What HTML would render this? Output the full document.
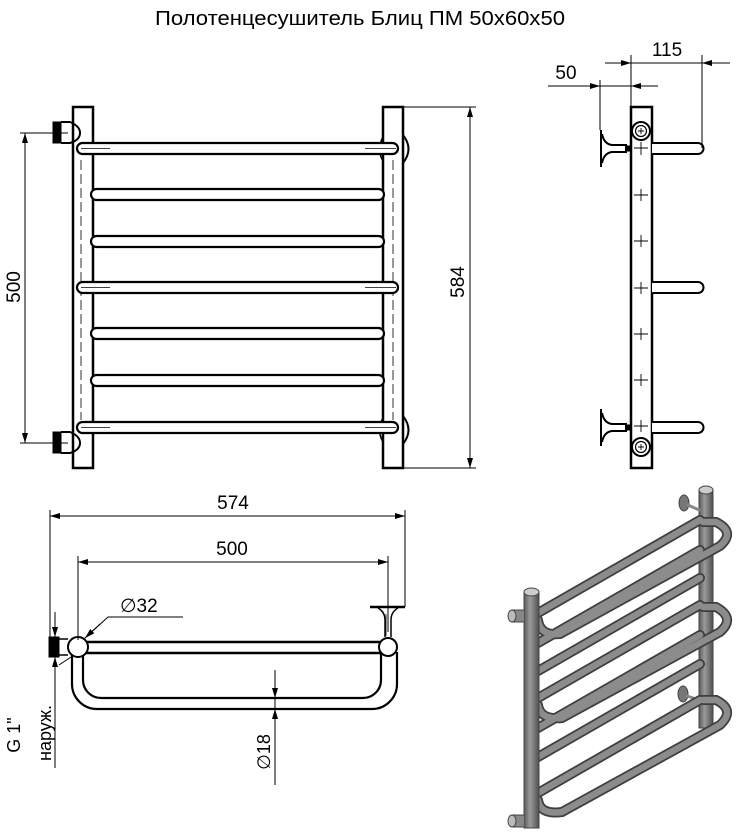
<!DOCTYPE html>
<html><head><meta charset="utf-8"><style>
html,body{margin:0;padding:0;background:#fff;}
svg{display:block;}
text{font-family:"Liberation Sans","DejaVu Sans",sans-serif;fill:#000;}
</style></head><body>
<svg width="736" height="833" viewBox="0 0 736 833" xmlns="http://www.w3.org/2000/svg">
<defs>
<marker id="a" viewBox="0 0 10 6" refX="10" refY="3" markerWidth="10" markerHeight="6" markerUnits="userSpaceOnUse" orient="auto"><path d="M0,0 L10,3 L0,6 z" fill="#000"/></marker>
<linearGradient id="pg" x1="0" x2="1"><stop offset="0" stop-color="#5a5a5a"/><stop offset="0.4" stop-color="#9a9a9a"/><stop offset="1" stop-color="#505050"/></linearGradient>
</defs>

<text x="155" y="25" font-size="20" textLength="410" lengthAdjust="spacingAndGlyphs">Полотенцесушитель Блиц ПМ 50х60х50</text>

<!-- FRONT VIEW -->
<g fill="none" stroke="#000">
<rect x="73" y="107" width="20" height="361" stroke-width="2.5" fill="#fff"/>
<rect x="383" y="107" width="20" height="361" stroke-width="2.5" fill="#fff"/>
<line x1="81" y1="160" x2="81" y2="420" stroke-width="0.8" stroke-dasharray="10,4"/>
<line x1="393" y1="160" x2="393" y2="420" stroke-width="0.8" stroke-dasharray="10,4"/>
<path d="M403 135 Q414 149 403 163" stroke-width="2"/>
<path d="M403 416 Q414 430 403 444" stroke-width="2"/>
<path d="M383 137 Q376 149 383 161" stroke-width="1.5"/>
<path d="M383 418 Q376 430 383 442" stroke-width="1.5"/>
<rect x="53" y="122" width="8" height="21" fill="#000" stroke-width="1"/>
<path d="M61 122 H70 Q80 126 80 133 Q80 140 70 143 H61" stroke-width="2"/>
<rect x="53" y="432" width="8" height="21" fill="#000" stroke-width="1"/>
<path d="M61 432 H70 Q80 436 80 443 Q80 450 70 453 H61" stroke-width="2"/>
<rect x="77" y="143" width="321" height="11" rx="5.5" stroke-width="2.2" fill="#fff"/>
<rect x="77" y="282" width="321" height="11" rx="5.5" stroke-width="2.2" fill="#fff"/>
<rect x="77" y="422" width="321" height="11" rx="5.5" stroke-width="2.2" fill="#fff"/>
<line x1="81" y1="148.5" x2="110" y2="148.5" stroke-width="0.8"/><line x1="365" y1="148.5" x2="396" y2="148.5" stroke-width="0.8"/>
<line x1="81" y1="287.5" x2="110" y2="287.5" stroke-width="0.8"/><line x1="365" y1="287.5" x2="396" y2="287.5" stroke-width="0.8"/>
<line x1="81" y1="427.5" x2="110" y2="427.5" stroke-width="0.8"/><line x1="365" y1="427.5" x2="396" y2="427.5" stroke-width="0.8"/>
<rect x="91" y="189" width="293" height="11" rx="5.5" stroke-width="2.2" fill="#fff"/>
<rect x="91" y="236" width="293" height="11" rx="5.5" stroke-width="2.2" fill="#fff"/>
<rect x="91" y="328" width="293" height="11" rx="5.5" stroke-width="2.2" fill="#fff"/>
<rect x="91" y="375" width="293" height="11" rx="5.5" stroke-width="2.2" fill="#fff"/>
<g stroke-width="1">
<line x1="20" y1="133" x2="68" y2="133"/><line x1="20" y1="443" x2="68" y2="443"/>
<line x1="25" y1="150" x2="25" y2="133" marker-end="url(#a)"/><line x1="25" y1="426" x2="25" y2="443" marker-end="url(#a)"/>
<line x1="25" y1="150" x2="25" y2="426"/>
<line x1="403" y1="107" x2="476" y2="107"/><line x1="403" y1="468" x2="476" y2="468"/>
<line x1="470" y1="125" x2="470" y2="107" marker-end="url(#a)"/><line x1="470" y1="450" x2="470" y2="468" marker-end="url(#a)"/>
<line x1="470" y1="125" x2="470" y2="450"/>
</g>
</g>
<text transform="translate(20,287) rotate(-90)" font-size="19" text-anchor="middle">500</text>
<text transform="translate(464,282) rotate(-90)" font-size="19" text-anchor="middle">584</text>

<!-- SIDE VIEW -->
<g fill="none" stroke="#000">
<rect x="631" y="107" width="21" height="361" stroke-width="2.5" fill="#fff"/>
<circle cx="641" cy="131" r="9" stroke-width="2"/><circle cx="641" cy="131" r="5.5" stroke-width="1.2"/>
<circle cx="641" cy="447" r="9" stroke-width="2"/><circle cx="641" cy="447" r="5.5" stroke-width="1.2"/>
<g stroke-width="0.9">
<path d="M634 148H648M641 142V155"/><path d="M634 195H648M641 189V201"/><path d="M634 241H648M641 235V247"/>
<path d="M634 288H648M641 282V294"/><path d="M634 334H648M641 328V340"/><path d="M634 380H648M641 374V386"/><path d="M634 426H648M641 420V432"/>
<path d="M638 131H644M641 128V134"/><path d="M638 447H644M641 444V450"/>
</g>
<path d="M652 143H698A5.5 5.5 0 0 1 698 154H652" stroke-width="2" fill="#fff"/>
<path d="M652 282H698A5.5 5.5 0 0 1 698 293H652" stroke-width="2" fill="#fff"/>
<path d="M652 422H698A5.5 5.5 0 0 1 698 433H652" stroke-width="2" fill="#fff"/>
<path d="M601 130 L601 167 M602 134 Q604 144 612 145 H626 V152 H612 Q604 153 602 163" stroke-width="2"/>
<rect x="626" y="146" width="5" height="5" fill="#000" stroke-width="1"/>
<path d="M601 409 L601 446 M602 413 Q604 423 612 424 H626 V431 H612 Q604 432 602 442" stroke-width="2"/>
<rect x="626" y="425" width="5" height="5" fill="#000" stroke-width="1"/>
<g stroke-width="1">
<line x1="631" y1="55" x2="631" y2="107"/><line x1="702" y1="55" x2="702" y2="148"/>
<line x1="605" y1="63" x2="631" y2="63" marker-end="url(#a)"/><line x1="730" y1="63" x2="702" y2="63" marker-end="url(#a)"/>
<line x1="631" y1="63" x2="702" y2="63"/>
<line x1="600" y1="80" x2="600" y2="130"/>
<line x1="548" y1="86" x2="600" y2="86" marker-end="url(#a)"/><line x1="658" y1="86" x2="631" y2="86" marker-end="url(#a)"/>
<line x1="600" y1="86" x2="631" y2="86"/>
</g>
</g>
<text x="667" y="56" font-size="19" text-anchor="middle">115</text>
<text x="566" y="79" font-size="19" text-anchor="middle">50</text>

<!-- TOP VIEW -->
<g fill="none" stroke="#000">
<path d="M72 652 V684 A25 25 0 0 0 97 709 H372 A25 25 0 0 0 397 684 V652" stroke-width="2.2"/>
<path d="M83 652 V680 A18 18 0 0 0 101 698 H363 A18 18 0 0 0 381 680 V652" stroke-width="2.2"/>
<line x1="85" y1="642" x2="380" y2="642" stroke-width="2.5"/>
<line x1="85" y1="653" x2="380" y2="653" stroke-width="2.5"/>
<circle cx="78" cy="647" r="10" stroke-width="2" fill="#fff"/>
<circle cx="388" cy="647" r="9" stroke-width="2" fill="#fff"/>
<rect x="49" y="637" width="10" height="20" fill="#000" stroke-width="1"/>
<path d="M59 639 H68 M59 655 H68" stroke-width="1.5"/>
<path d="M370 607 H405" stroke-width="2.5"/>
<path d="M378 608 Q385 612 385 620 V637 M398 608 Q391 612 391 620 V637" stroke-width="1.5"/>
<path d="M386 614 V636" stroke-width="0.8"/>
<g stroke-width="1">
<line x1="50" y1="510" x2="50" y2="637"/><line x1="405" y1="510" x2="405" y2="607"/>
<line x1="70" y1="516" x2="50" y2="516" marker-end="url(#a)"/><line x1="385" y1="516" x2="405" y2="516" marker-end="url(#a)"/>
<line x1="70" y1="516" x2="385" y2="516"/>
<line x1="78" y1="556" x2="78" y2="640"/><line x1="388" y1="556" x2="388" y2="632"/>
<line x1="98" y1="562" x2="78" y2="562" marker-end="url(#a)"/><line x1="368" y1="562" x2="388" y2="562" marker-end="url(#a)"/>
<line x1="98" y1="562" x2="368" y2="562"/>
<path d="M183 617 H108 L85 638" /><line x1="100" y1="624" x2="85" y2="638" marker-end="url(#a)"/>
<line x1="71" y1="657" x2="59" y2="665"/>
<line x1="55" y1="612" x2="55" y2="768"/>
<line x1="55" y1="616" x2="55" y2="637" marker-end="url(#a)"/>
<line x1="55" y1="672" x2="55" y2="657" marker-end="url(#a)"/>
<line x1="275" y1="670" x2="275" y2="785"/>
<line x1="275" y1="680" x2="275" y2="698" marker-end="url(#a)"/>
<line x1="275" y1="727" x2="275" y2="709" marker-end="url(#a)"/>
</g>
</g>
<text x="233" y="509" font-size="19" text-anchor="middle">574</text>
<text x="232" y="555" font-size="19" text-anchor="middle">500</text>
<text x="120" y="612" font-size="19">∅32</text>
<text transform="translate(20,735) rotate(-90)" font-size="18" text-anchor="middle">G 1"</text>
<text transform="translate(51,733) rotate(-90)" font-size="18" text-anchor="middle">наруж.</text>
<text transform="translate(270,752) rotate(-90)" font-size="18" text-anchor="middle">∅18</text>

<!-- 3D VIEW -->
<g fill="none" stroke-linecap="round">
<rect x="699" y="490" width="14" height="238" fill="url(#pg)" stroke="#444" stroke-width="1"/>
<ellipse cx="706" cy="490" rx="7" ry="4" fill="#ccc" stroke="#444"/>
<g stroke="#444" stroke-width="1">
<ellipse cx="684" cy="503" rx="5" ry="8" fill="#777"/><line x1="688" y1="505" x2="699" y2="510" stroke="#888" stroke-width="3"/>
<ellipse cx="683" cy="694" rx="5" ry="8" fill="#777"/><line x1="687" y1="696" x2="699" y2="700" stroke="#888" stroke-width="3"/>
</g>
<g stroke="#3e3e3e" stroke-width="10">
<path d="M538 613 L700 520"/><path d="M538 643 L700 550"/><path d="M538 671 L700 578"/>
<path d="M538 698 L700 605"/><path d="M538 728 L700 635"/><path d="M538 757 L700 664"/><path d="M538 793 L700 700"/>
<path d="M538 620 Q540 636 560 634 L720 546 Q736 532 716 522 L703 522"/>
<path d="M538 705 Q540 720 562 718 L720 632 Q736 618 716 607 L703 607"/>
<path d="M538 800 Q540 815 562 812 L720 725 Q736 710 716 700 L703 700"/>
</g>
<g stroke="#8c8c8c" stroke-width="6.5">
<path d="M538 613 L700 520"/><path d="M538 643 L700 550"/><path d="M538 671 L700 578"/>
<path d="M538 698 L700 605"/><path d="M538 728 L700 635"/><path d="M538 757 L700 664"/><path d="M538 793 L700 700"/>
<path d="M538 620 Q540 636 560 634 L720 546 Q736 532 716 522 L703 522"/>
<path d="M538 705 Q540 720 562 718 L720 632 Q736 618 716 607 L703 607"/>
<path d="M538 800 Q540 815 562 812 L720 725 Q736 710 716 700 L703 700"/>
</g>
<rect x="524" y="592" width="15" height="236" fill="url(#pg)" stroke="#444" stroke-width="1"/>
<ellipse cx="531.5" cy="592" rx="7.5" ry="4" fill="#ccc" stroke="#444"/>
<g stroke="#444" stroke-width="1">
<path d="M524 610 L512 610 L512 622 L524 622" fill="#888"/><ellipse cx="512" cy="616" rx="4" ry="6" fill="#bbb"/>
<path d="M524 815 L512 815 L512 827 L524 827" fill="#888"/><ellipse cx="512" cy="821" rx="4" ry="6" fill="#bbb"/>
</g>
</g>
</svg>
</body></html>
